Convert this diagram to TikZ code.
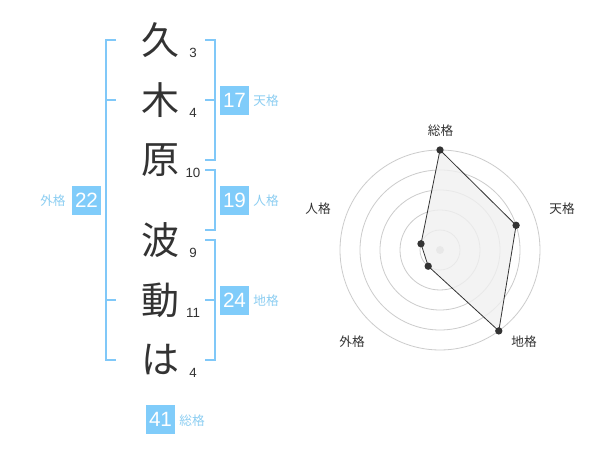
\documentclass[tikz,border=0pt]{standalone}
\usepackage{fontspec}
\setmainfont{Liberation Sans}
\newfontfamily\jp{Noto Sans CJK JP}
\definecolor{txt}{HTML}{333333}
\definecolor{brk}{HTML}{80C8F8}
\definecolor{boxc}{HTML}{80CCFA}
\definecolor{lab}{HTML}{8CCEF2}
\definecolor{grid}{HTML}{CCCCCC}
\definecolor{area}{HTML}{F0F0F0}
\begin{document}
\begin{tikzpicture}[x=0.75pt,y=-0.75pt,
  kanji/.style={font=\jp\fontsize{28.5}{28.5}\selectfont,text=txt,inner sep=0pt},
  strokes/.style={font=\fontsize{10}{10}\selectfont,text=txt,inner sep=0pt},
  valbox/.style={fill=boxc,text=white,font=\fontsize{15.5}{15.5}\selectfont,minimum width=21.75pt,minimum height=21.75pt,inner sep=0pt},
  vallab/.style={font=\jp\fontsize{9.5}{9.5}\selectfont,text=lab,inner sep=0pt},
  bracket/.style={draw=brk,line width=1.5pt},
  ring/.style={draw=grid,line width=0.6pt},
  axislab/.style={font=\jp\fontsize{9.5}{9.5}\selectfont,text=txt,inner sep=0pt},
  dot/.style={circle,fill=txt,inner sep=0pt,minimum size=5.5pt}]
\fill[white] (0,0) rectangle (600,470);
\useasboundingbox (0,0) rectangle (600,470);
% characters
\node[kanji] (c1) at (160,40) {久};
\node[kanji] (c2) at (160,100) {木};
\node[kanji] (c3) at (160,160) {原};
\node[kanji] (c4) at (160,240) {波};
\node[kanji] (c5) at (160,300) {動};
\node[kanji] (c6) at (160,360) {は};
\node[strokes] (n1) at (193,53) {3};
\node[strokes] (n2) at (193,113) {4};
\node[strokes] (n3) at (193,173) {10};
\node[strokes] (n4) at (193,253) {9};
\node[strokes] (n5) at (193,313) {11};
\node[strokes] (n6) at (193,373) {4};
% brackets
\draw[bracket] (116,40) -- (105.5,40) -- (105.5,360) -- (116,360);
\draw[bracket] (105.5,100) -- (116,100);
\draw[bracket] (105.5,300) -- (116,300);
\draw[bracket] (205,40) -- (214.5,40) -- (214.5,160) -- (205,160);
\draw[bracket] (214.5,100) -- (205,100);
\draw[bracket] (205,170) -- (214.5,170) -- (214.5,230) -- (205,230);
\draw[bracket] (205,240) -- (214.5,240) -- (214.5,360) -- (205,360);
\draw[bracket] (214.5,300) -- (205,300);
% value boxes
\node[valbox] (b17) at (234.5,100.5) {17};
\node[vallab] (l17) at (266,101) {天格};
\node[valbox] (b19) at (234.5,200.5) {19};
\node[vallab] (l19) at (266,201) {人格};
\node[valbox] (b24) at (234.5,300.5) {24};
\node[vallab] (l24) at (266,301) {地格};
\node[valbox] (b22) at (86.5,200.5) {22};
\node[vallab] (l22) at (53,201) {外格};
\node[valbox] (b41) at (160.5,419.5) {41};
\node[vallab] (l41) at (192,421) {総格};
% radar
\foreach \r in {20,40,60,80,100} \draw[ring] (440,250) circle[radius=\r];
\fill[grid] (440,250) circle[radius=4];
\coordinate (p1) at (440,150);
\coordinate (p2) at (516.1,225.3);
\coordinate (p3) at (498.8,330.9);
\coordinate (p4) at (428.2,266.2);
\coordinate (p5) at (421.0,243.8);
\filldraw[fill=area,fill opacity=0.8,draw=txt,line width=0.6pt] (p1) -- (p2) -- (p3) -- (p4) -- (p5) -- cycle;
\foreach \p in {p1,p2,p3,p4,p5} \node[dot] at (\p) {};
\node[axislab] (a1) at (440.5,130.5) {総格};
\node[axislab] (a2) at (562,208.5) {天格};
\node[axislab] (a3) at (524,341.5) {地格};
\node[axislab] (a4) at (352,341.5) {外格};
\node[axislab] (a5) at (318,208.5) {人格};
\end{tikzpicture}
\end{document}
